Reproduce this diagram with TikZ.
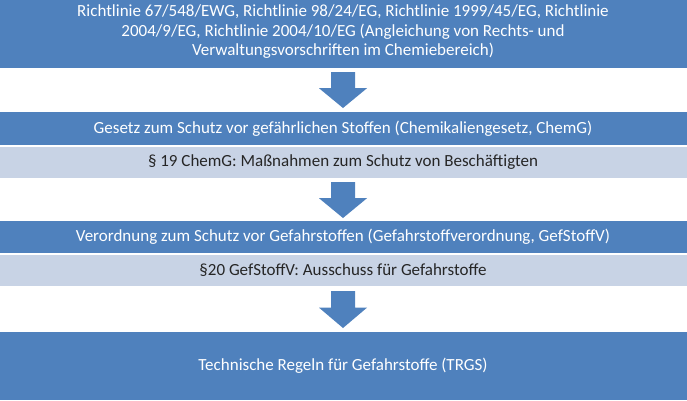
\documentclass[tikz,border=0pt]{standalone}
\usepackage{fontspec}
\setmainfont{Carlito}
\begin{document}
\begin{tikzpicture}[x=1pt,y=-1pt,
  dark/.style={fill={rgb,255:red,79;green,129;blue,189},draw=none},
  light/.style={fill={rgb,255:red,200;green,211;blue,229},draw=none},
  wt/.style={text=white,font=\fontsize{17}{19.5}\selectfont,align=center,inner sep=0pt},
  bt/.style={text=black!85,font=\fontsize{17}{19.5}\selectfont,align=center,inner sep=0pt},
  arr/.style={fill={rgb,255:red,79;green,129;blue,189},draw=none}]
\useasboundingbox (0,0) rectangle (687,400);
\fill[dark] (0,0) rectangle (687,68);
\node[wt] (t1) at (343,32) {Richtlinie 67/548/EWG, Richtlinie 98/24/EG, Richtlinie 1999/45/EG, Richtlinie\\2004/9/EG, Richtlinie 2004/10/EG (Angleichung von Rechts- und\\Verwaltungsvorschriften im Chemiebereich)};
\fill[dark] (0,112) rectangle (687,145);
\node[wt] (t2) at (343,128.5) {Gesetz zum Schutz vor gefährlichen Stoffen (Chemikaliengesetz, ChemG)};
\fill[light] (0,147) rectangle (687,178);
\node[bt] (t3) at (343,162.5) {§ 19 ChemG: Maßnahmen zum Schutz von Beschäftigten};
\fill[dark] (0,221) rectangle (687,253);
\node[wt] (t4) at (343,237) {Verordnung zum Schutz vor Gefahrstoffen (Gefahrstoffverordnung, GefStoffV)};
\fill[light] (0,255) rectangle (687,286);
\node[bt] (t5) at (343,270.5) {§20 GefStoffV: Ausschuss für Gefahrstoffe};
\fill[dark] (0,332) rectangle (687,400);
\node[wt] (t6) at (343,366) {Technische Regeln für Gefahrstoffe (TRGS)};
\foreach \a/\b in {72/108,182/218,291/328}{
  \fill[arr] (331,\a) -- (355,\a) -- (355,{\a+(\b-\a)*0.45}) -- (367,{\a+(\b-\a)*0.45}) -- (343,\b) -- (319,{\a+(\b-\a)*0.45}) -- (331,{\a+(\b-\a)*0.45}) -- cycle;}
\end{tikzpicture}
\end{document}
